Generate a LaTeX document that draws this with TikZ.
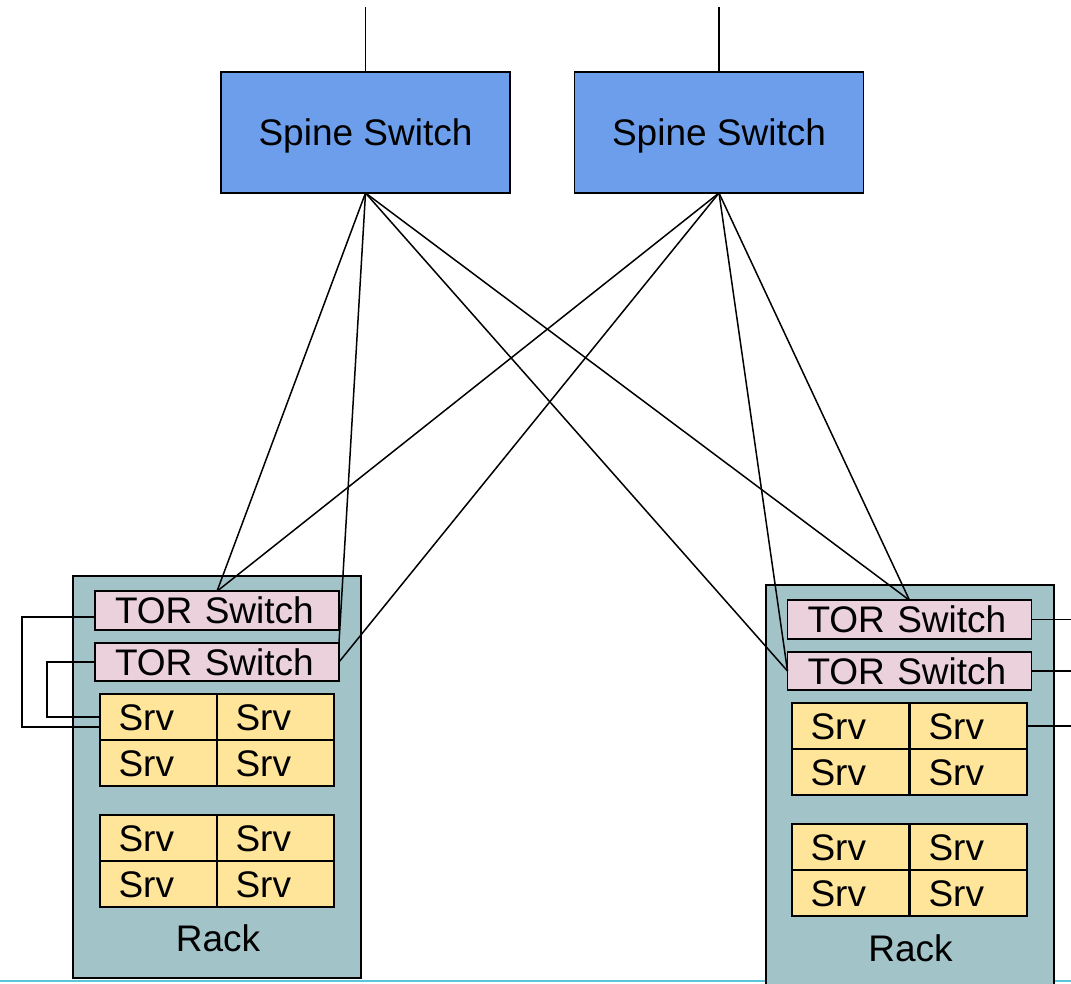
\documentclass[tikz,border=0pt]{standalone}
\usepackage{fontspec}
\setmainfont{Liberation Sans}
\definecolor{spineblue}{HTML}{6D9EEB}
\definecolor{rackteal}{HTML}{A2C4C9}
\definecolor{torpink}{HTML}{EAD1DC}
\definecolor{srvyellow}{HTML}{FFE599}
\definecolor{edgecyan}{HTML}{5BC6DA}
\begin{document}
\begin{tikzpicture}[x=1pt,y=-1pt,
  txt/.style={font=\fontsize{37}{40}\selectfont,text height=26.5pt,text depth=0pt},
  box/.style={txt,draw=black,line width=1.8pt,inner sep=0pt,outer sep=0pt},
  spine/.style={box,fill=spineblue,minimum width=289pt,minimum height=121pt},
  rack/.style={box,fill=rackteal,minimum width=288pt},
  tor/.style={box,fill=torpink,minimum height=38.5pt,text width=204pt,align=left,inner xsep=20pt},
  srv/.style={box,fill=srvyellow,minimum height=46pt,text width=80pt,align=left,inner xsep=18.5pt},
  link/.style={line width=1.5pt,black},
  lbl/.style={txt,inner sep=0pt}]
\useasboundingbox (0,0) rectangle (1071,983);
\clip (0,0) rectangle (1071,983);
% bottom line
\coordinate (b0) at (0,981);
\coordinate (b1) at (1071,981);
\draw[edgecyan,line width=2pt] (b0) -- (b1);
% spines
\node[spine] (sp1) at (365.5,132.5) {Spine Switch};
\node[spine] (sp2) at (719,132.5) {Spine Switch};
\coordinate (t1) at (365.5,7);
\coordinate (t2) at (719,7);
\draw[link] (t1) -- (sp1.north);
\draw[link] (t2) -- (sp2.north);
% racks
\node[rack,minimum height=402pt] (lrack) at (217,777) {};
\node[rack,minimum height=420pt] (rrack) at (910,795) {};
\node[lbl] (lracklbl) at (218,938.5) {Rack};
\node[lbl] (rracklbl) at (910.5,948.5) {Rack};
% TOR switches
\node[tor] (ltor1) at (217,610.5) {TOR Switch};
\node[tor] (ltor2) at (217,662) {TOR Switch};
\node[tor] (rtor1) at (909.5,619.5) {TOR Switch};
\node[tor] (rtor2) at (909.5,671) {TOR Switch};
% servers left
\node[srv] (ls11) at (158.5,717) {Srv};
\node[srv] (ls12) at (275.5,717) {Srv};
\node[srv] (ls13) at (158.5,763) {Srv};
\node[srv] (ls14) at (275.5,763) {Srv};
\node[srv] (ls21) at (158.5,838) {Srv};
\node[srv] (ls22) at (275.5,838) {Srv};
\node[srv] (ls23) at (158.5,884) {Srv};
\node[srv] (ls24) at (275.5,884) {Srv};
% servers right
\node[srv] (rs11) at (850.5,726) {Srv};
\node[srv] (rs12) at (968.5,726) {Srv};
\node[srv] (rs13) at (850.5,772) {Srv};
\node[srv] (rs14) at (968.5,772) {Srv};
\node[srv] (rs21) at (850.5,847) {Srv};
\node[srv] (rs22) at (968.5,847) {Srv};
\node[srv] (rs23) at (850.5,893) {Srv};
\node[srv] (rs24) at (968.5,893) {Srv};
% spine to TOR links
\draw[link] (sp1.south) -- (ltor1.north);
\draw[link] (sp1.south) -- (ltor2.north east);
\draw[link] (sp1.south) -- (rtor2.west);
\draw[link] (sp1.south) -- (rtor1.north);
\draw[link] (sp2.south) -- (ltor1.north);
\draw[link] (sp2.south) -- (ltor2.east);
\draw[link] (sp2.south) -- (rtor2.west);
\draw[link] (sp2.south) -- (rtor1.north);
% left side loops
\coordinate (lo1) at (22,617);
\coordinate (lo2) at (47,662);
\draw[link] (ltor1.west |- lo1) -- (lo1) |- ([yshift=-10pt]ls11.west);
\draw[link] (ltor2.west) -- (lo2) |- (ls11.west);
% right side exits
\coordinate (ro1) at (1071,619.5);
\coordinate (ro2) at (1071,671);
\coordinate (ro3) at (1071,726);
\draw[link] (rtor1.east) -- (ro1);
\draw[link] (rtor2.east) -- (ro2);
\draw[link] (rs12.east) -- (ro3);
\end{tikzpicture}
\end{document}
